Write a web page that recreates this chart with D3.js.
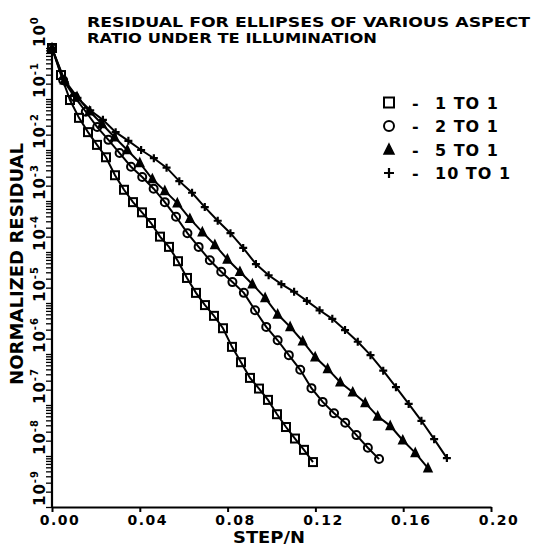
<!DOCTYPE html>
<html><head><meta charset="utf-8">
<script src="https://cdn.jsdelivr.net/npm/d3@7"></script>
<style>body{margin:0;background:#fff}svg text{font-family:"DejaVu Sans",sans-serif;font-weight:bold;fill:#000}</style>
</head><body>
<svg id="c" width="545" height="546"></svg>
<script>
// ---- data ----
const titleLines = ["RESIDUAL FOR ELLIPSES OF VARIOUS ASPECT", "RATIO UNDER TE ILLUMINATION"];
const xLabel = "STEP/N";
const yLabel = "NORMALIZED RESIDUAL";
const xTicks = [0, 0.04, 0.08, 0.12, 0.16, 0.20];
const xTickLabels = ["0.00", "0.04", "0.08", "0.12", "0.16", "0.20"];
const yExponents = [0, -1, -2, -3, -4, -5, -6, -7, -8, -9];
const seriesNames = ["1 TO 1", "2 TO 1", "5 TO 1", "10 TO 1"];
const seriesSymbols = ["square", "circle", "triangle", "plus"];

const x1to1 = [0, .0041, .0082, .0123, .0164, .0205, .0246, .0287, .0328, .0369, .0410, .0451, .0492, .0533, .0574, .0615, .0656, .0697, .0738, .0779, .0820, .0861, .0902, .0943, .0984, .1025, .1066, .1107, .1148, .1189];
const r1to1 = [1, 0.295, 0.0955, 0.0427, 0.0224, 0.0126, 7.2e-3, 3.2e-3, 1.66e-3, 9.5e-4, 6.0e-4, 3.7e-4, 2.0e-4, 1.26e-4, 6.6e-5, 3.1e-5, 1.58e-5, 9.1e-6, 5.6e-6, 3.2e-6, 1.38e-6, 6.9e-7, 3.4e-7, 2.1e-7, 1.26e-7, 6.6e-8, 3.7e-8, 2.2e-8, 1.32e-8, 7.6e-9];

const x2to1 = [0, .0051, .0103, .0154, .0206, .0257, .0308, .0360, .0411, .0463, .0514, .0565, .0617, .0668, .0719, .0771, .0822, .0874, .0925, .0976, .1028, .1079, .1131, .1182, .1233, .1285, .1336, .1387, .1439, .1490];
const r2to1 = [1, 0.234, 0.110, 0.0562, 0.0282, 0.0158, 8.7e-3, 4.7e-3, 2.95e-3, 1.74e-3, 9.5e-4, 4.9e-4, 2.34e-4, 1.26e-4, 6.9e-5, 4.1e-5, 2.57e-5, 1.58e-5, 7.2e-6, 3.4e-6, 1.86e-6, 9.5e-7, 4.9e-7, 2.14e-7, 1.15e-7, 6.9e-8, 4.5e-8, 2.57e-8, 1.45e-8, 8.7e-9];

const x5to1 = [0, .0057, .0114, .0171, .0228, .0285, .0343, .0400, .0457, .0514, .0571, .0628, .0685, .0742, .0799, .0856, .0913, .0971, .1028, .1085, .1142, .1199, .1256, .1313, .1370, .1427, .1484, .1541, .1598, .1655, .1713];
const r5to1 = [1, 0.234, 0.110, 0.0575, 0.0324, 0.0178, 0.0100, 5.6e-3, 2.7e-3, 1.58e-3, 9.1e-4, 4.5e-4, 2.45e-4, 1.38e-4, 7.2e-5, 4.1e-5, 2.34e-5, 1.26e-5, 6.0e-6, 3.4e-6, 1.78e-6, 8.7e-7, 5.1e-7, 2.8e-7, 1.78e-7, 1.10e-7, 6.0e-8, 3.9e-8, 2.04e-8, 1.15e-8, 5.8e-9];

const x10to1 = [0, .0058, .0116, .0174, .0232, .0290, .0348, .0406, .0464, .0522, .0580, .0638, .0696, .0755, .0813, .0871, .0929, .0987, .1045, .1103, .1161, .1219, .1277, .1335, .1393, .1451, .1509, .1567, .1625, .1683, .1741, .1799];
const r10to1 = [1, 0.214, 0.105, 0.060, 0.039, 0.0224, 0.0151, 0.0100, 6.9e-3, 4.5e-3, 2.45e-3, 1.45e-3, 7.6e-4, 4.1e-4, 2.34e-4, 1.20e-4, 5.8e-5, 3.5e-5, 2.34e-5, 1.66e-5, 1.10e-5, 7.2e-6, 4.9e-6, 2.95e-6, 1.74e-6, 9.5e-7, 4.7e-7, 2.24e-7, 1.05e-7, 4.9e-8, 2.14e-8, 9.1e-9];

const seriesX = [x1to1, x2to1, x5to1, x10to1];
const seriesR = [r1to1, r2to1, r5to1, r10to1];

// ---- drawing ----
const svg = d3.select("#c");
const x = d3.scaleLinear().domain([0, 0.2]).range([52, 491]);
const y = d3.scaleLog().domain([1, 1e-9]).range([48, 507]);

// title
titleLines.forEach((t, i) => {
  svg.append("text").attr("x", 87).attr("y", 27 + i * 16)
    .attr("font-size", 14).attr("textLength", i === 0 ? 443 : 290)
    .attr("lengthAdjust", "spacingAndGlyphs").text(t);
});

// y axis
const minorVals = [];
for (let e = -9; e < 0; e++) for (let m = 1; m < 10; m++) minorVals.push(m * Math.pow(10, e));
minorVals.push(1);
const yAxis = d3.axisLeft(y).tickValues(minorVals).tickSize(6).tickFormat("").tickSizeOuter(0);
const gy = svg.append("g").attr("transform", "translate(52,0)").call(yAxis);
gy.select(".domain").attr("stroke", "#000").attr("stroke-width", 2.2).attr("d", `M0,${y(1) - 3}V${y(1e-9)}`);
gy.selectAll(".tick line").attr("stroke", "#000").attr("stroke-width", 1.3);
yExponents.forEach(e => {
  const t = svg.append("text").attr("font-size", 15).attr("letter-spacing", 1)
    .attr("transform", `translate(45,${y(Math.pow(10, e)) - 1}) rotate(-90)`);
  t.append("tspan").text("10");
  t.append("tspan").attr("dy", -7).attr("font-size", 10).text(e);
});
svg.append("text").attr("font-size", 18).attr("text-anchor", "middle")
  .attr("textLength", 242).attr("lengthAdjust", "spacingAndGlyphs")
  .attr("transform", "translate(23,264) rotate(-90)").text(yLabel);

// x axis
const xAxis = d3.axisBottom(x).tickValues(xTicks).tickSize(5).tickFormat("").tickSizeOuter(0);
const gx = svg.append("g").attr("transform", `translate(0,${y(1e-9)})`).call(xAxis);
gx.select(".domain").attr("stroke", "#000").attr("stroke-width", 2.2);
gx.selectAll(".tick line").attr("stroke", "#000").attr("stroke-width", 2);
xTicks.forEach((v, i) => {
  svg.append("text").attr("x", x(v) + 8).attr("y", 524.5).attr("text-anchor", "middle")
    .attr("font-size", 14).attr("letter-spacing", 1.5).text(xTickLabels[i]);
});
svg.append("text").attr("x", 269).attr("y", 542.5).attr("text-anchor", "middle")
  .attr("font-size", 15).attr("textLength", 72).attr("lengthAdjust", "spacingAndGlyphs").text(xLabel);

// markers
function drawMarker(g, type, cx, cy, s) {
  if (type === "square") {
    g.append("rect").attr("x", cx - s / 2).attr("y", cy - s / 2).attr("width", s).attr("height", s)
      .attr("fill", "none").attr("stroke", "#000").attr("stroke-width", 2);
  } else if (type === "circle") {
    g.append("circle").attr("cx", cx).attr("cy", cy).attr("r", s / 2)
      .attr("fill", "none").attr("stroke", "#000").attr("stroke-width", 2);
  } else if (type === "triangle") {
    const h = s * 0.9;
    g.append("path").attr("d", `M${cx},${cy - h / 2 - 1}L${cx + s / 2},${cy + h / 2}L${cx - s / 2},${cy + h / 2}Z`)
      .attr("fill", "#000").attr("stroke", "#000").attr("stroke-width", 1.5);
  } else {
    g.append("path").attr("d", `M${cx - s / 2},${cy}H${cx + s / 2}M${cx},${cy - s / 2}V${cy + s / 2}`)
      .attr("stroke", "#000").attr("stroke-width", 2.2);
  }
}

const line = d3.line().x(d => x(d[0])).y(d => y(d[1]));
seriesX.forEach((xs, si) => {
  const pts = xs.map((v, i) => [v, seriesR[si][i]]);
  svg.append("path").datum(pts).attr("d", line).attr("fill", "none")
    .attr("stroke", "#000").attr("stroke-width", 2);
  const g = svg.append("g");
  pts.forEach(p => drawMarker(g, seriesSymbols[si], x(p[0]), y(p[1]), 8));
});

// legend
const legendY = [102.5, 126, 149.5, 173];
seriesNames.forEach((n, i) => {
  const g = svg.append("g");
  drawMarker(g, seriesSymbols[i], 389, legendY[i], 10);
  svg.append("text").attr("x", 412).attr("y", legendY[i] + 6).attr("font-size", 16).text("-");
  svg.append("text").attr("x", 435).attr("y", legendY[i] + 6).attr("font-size", 16)
    .attr("letter-spacing", 1).attr("xml:space", "preserve").text(n);
});
</script>
</body></html>
